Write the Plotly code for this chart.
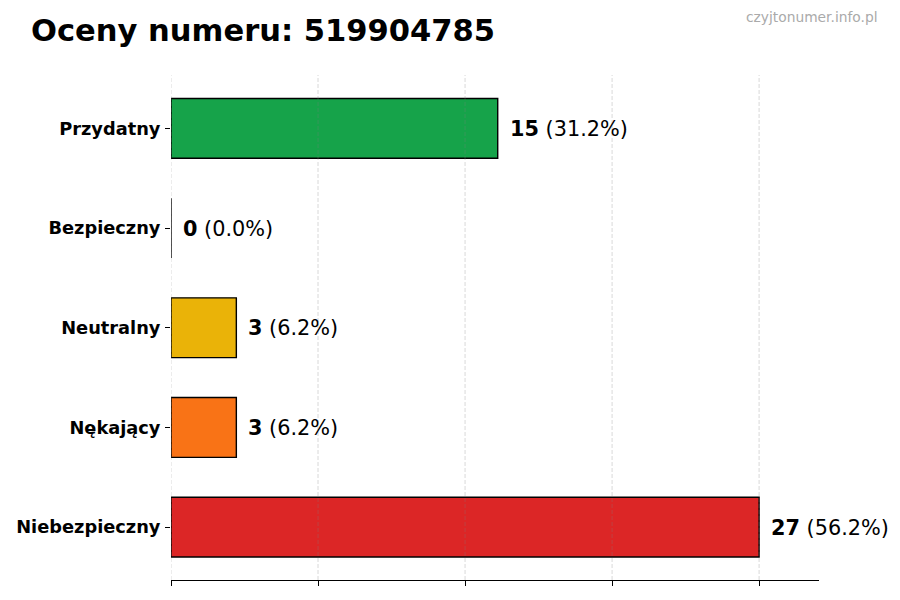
import plotly.graph_objects as go

number = "519904785"
categories = ["Niebezpieczny", "Nękający", "Neutralny", "Bezpieczny", "Przydatny"]
counts = [27, 3, 3, 0, 15]
percents = ["56.2", "6.2", "6.2", "0.0", "31.2"]
colors = ["#dc2626", "#f97316", "#eab308", "#22c55e", "#16a34a"]
x_ticks = [0, 6.75, 13.5, 20.25, 27]

FONT = "DejaVu Sans"

fig = go.Figure()
fig.add_trace(go.Bar(
    y=categories,
    x=counts,
    orientation="h",
    width=0.6,
    marker=dict(color=colors, line=dict(color="black", width=1.4)),
    hoverinfo="skip",
))

# value labels to the right of each bar
for cat, count, pct in zip(categories, counts, percents):
    fig.add_annotation(
        x=count, y=cat, xref="x", yref="y",
        text=f"<b>{count}</b> ({pct}%)",
        showarrow=False, xanchor="left", xshift=10, yshift=-0.5,
        font=dict(family=FONT, size=20.8, color="black"),
    )

# grid sits on top of the bars in the original
for tick in x_ticks:
    fig.add_shape(
        type="line", x0=tick, x1=tick, y0=0, y1=1, xref="x", yref="paper",
        line=dict(color="rgba(128,128,128,0.3)", width=1, dash="4px,2px"),
        layer="above",
    )

# page body adds 8px around the figure, so size and margins allow for that
fig.update_layout(
    width=892,
    height=592,
    autosize=False,
    showlegend=False,
    paper_bgcolor="white",
    plot_bgcolor="white",
    margin=dict(l=163, r=81, t=67, b=20),
    font=dict(family=FONT, color="black"),
    title=dict(
        text=f"<b>Oceny numeru: {number}</b>",
        x=23 / 892, xref="container", xanchor="left",
        y=1 - 22.5 / 592, yref="container", yanchor="middle",
        font=dict(family=FONT, size=30.55, color="black"),
    ),
    xaxis=dict(
        range=[0, 29.75],
        tickvals=x_ticks,
        showticklabels=False,
        ticks="outside",
        ticklen=5,
        tickcolor="black",
        showgrid=False,
        zeroline=False,
        showline=True,
        linecolor="black",
        linewidth=1,
        automargin=False,
    ),
    yaxis=dict(
        categoryorder="array",
        categoryarray=categories,
        range=[-0.53, 4.535],
        ticks="outside",
        ticklen=5,
        tickcolor="black",
        ticklabelstandoff=1,
        tickfont=dict(family=FONT, size=17.8, color="black", weight="bold"),
        showgrid=False,
        zeroline=False,
        showline=False,
        automargin=False,
    ),
)

fig.add_annotation(
    x=1.094, y=1.115, xref="paper", yref="paper",
    text="czyjtonumer.info.pl", showarrow=False, xanchor="right", yanchor="middle",
    font=dict(family=FONT, size=13.8, color="#aaaaaa"),
)

fig.write_html("out.html")
